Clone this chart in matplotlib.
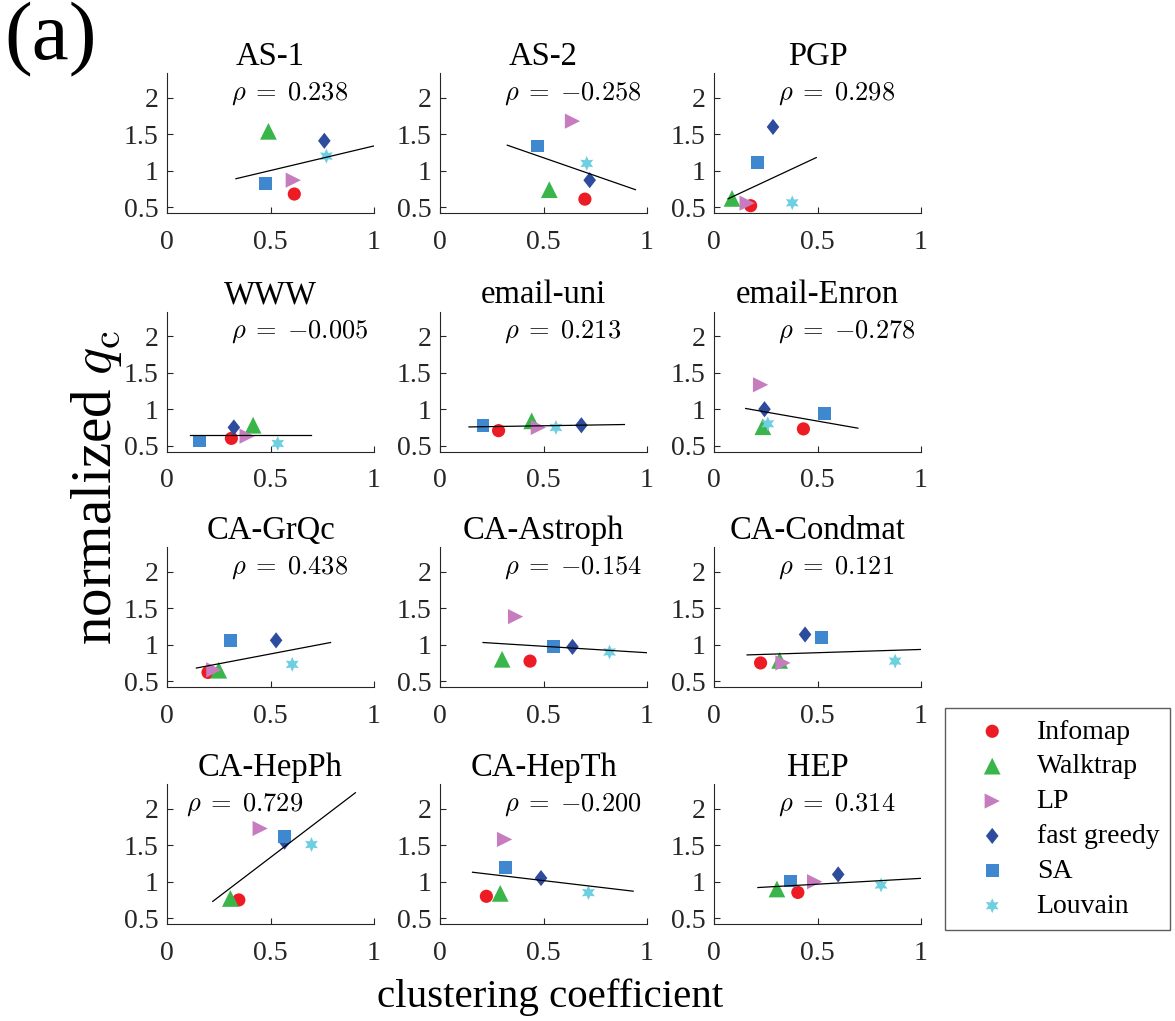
import numpy as np
import matplotlib
matplotlib.use("Agg")
import matplotlib.pyplot as plt
from matplotlib.path import Path

plt.rcParams['font.family'] = ['Liberation Serif', 'DejaVu Serif']
plt.rcParams['mathtext.fontset'] = 'cm'

# ---------------------------------------------------------
# DATA
# ---------------------------------------------------------
titles = ['AS-1', 'AS-2', 'PGP', 'WWW', 'email-uni', 'email-Enron',
          'CA-GrQc', 'CA-Astroph', 'CA-Condmat', 'CA-HepPh', 'CA-HepTh', 'HEP']
rho = ['0.238', '-0.258', '0.298', '-0.005', '0.213', '-0.278',
       '0.438', '-0.154', '0.121', '0.729', '-0.200', '0.314']
rho_xpos = [0.31, 0.31, 0.31, 0.31, 0.31, 0.31, 0.31, 0.31, 0.31, 0.09, 0.31, 0.31]

methods = ['Infomap', 'Walktrap', 'LP', 'fast greedy', 'SA', 'Louvain']

infomap_x = [0.615, 0.70, 0.177, 0.311, 0.283, 0.432, 0.198, 0.435, 0.225, 0.347, 0.224, 0.405]
infomap_y = [0.68, 0.61, 0.52, 0.60, 0.706, 0.73, 0.62, 0.775, 0.75, 0.75, 0.80, 0.853]
walktrap_x = [0.49, 0.528, 0.087, 0.416, 0.443, 0.236, 0.25, 0.30, 0.317, 0.306, 0.291, 0.304]
walktrap_y = [1.54, 0.74, 0.62, 0.78, 0.84, 0.76, 0.65, 0.80, 0.785, 0.77, 0.84, 0.90]
lp_x = [0.61, 0.64, 0.16, 0.387, 0.475, 0.225, 0.226, 0.365, 0.333, 0.45, 0.312, 0.486]
lp_y = [0.87, 1.68, 0.555, 0.63, 0.75, 1.335, 0.655, 1.385, 0.75, 1.73, 1.58, 1.0]
fastgreedy_x = [0.76, 0.723, 0.285, 0.323, 0.683, 0.244, 0.527, 0.64, 0.44, 0.568, 0.488, 0.60]
fastgreedy_y = [1.41, 0.87, 1.60, 0.75, 0.78, 1.0, 1.06, 0.97, 1.14, 1.55, 1.05, 1.10]
sa_x = [0.475, 0.472, 0.212, 0.158, 0.208, 0.534, 0.306, 0.547, 0.518, 0.568, 0.317, 0.368]
sa_y = [0.82, 1.34, 1.11, 0.565, 0.78, 0.94, 1.06, 0.97, 1.10, 1.62, 1.20, 1.01]
louvain_x = [0.77, 0.709, 0.378, 0.535, 0.56, 0.26, 0.605, 0.819, 0.875, 0.698, 0.717, 0.807]
louvain_y = [1.2, 1.10, 0.56, 0.53, 0.75, 0.80, 0.73, 0.90, 0.775, 1.51, 0.85, 0.955]

# linear fit end points
fit_x0 = [0.333, 0.325, 0.068, 0.113, 0.14, 0.153, 0.142, 0.208, 0.16, 0.221, 0.157, 0.212]
fit_y0 = [0.89, 1.35, 0.615, 0.64, 0.757, 1.01, 0.68, 1.03, 0.86, 0.73, 1.13, 0.92]
fit_x1 = [1.0, 0.944, 0.494, 0.694, 0.891, 0.695, 0.79, 1.0, 1.0, 0.91, 0.933, 1.0]
fit_y1 = [1.34, 0.74, 1.18, 0.64, 0.79, 0.74, 1.03, 0.89, 0.935, 2.22, 0.87, 1.046]

# ---------------------------------------------------------
# STYLE
# ---------------------------------------------------------
diamond = Path([(0, 1), (0.78, 0), (0, -1), (-0.78, 0), (0, 1)],
               [Path.MOVETO, Path.LINETO, Path.LINETO, Path.LINETO, Path.CLOSEPOLY])
series = [
    (infomap_x, infomap_y, 'o', '#ED1C24', 90),
    (walktrap_x, walktrap_y, '^', '#39B54A', 145),
    (lp_x, lp_y, '>', '#C77CBF', 120),
    (fastgreedy_x, fastgreedy_y, diamond, '#2E4C9E', 135),
    (sa_x, sa_y, 's', '#3F87CF', 85),
    (louvain_x, louvain_y, (6, 1, 0), '#6DCFE0', 115),
]
axcol = '#262626'

W, H = 1175, 1021
fig = plt.figure(figsize=(W / 100, H / 100), dpi=100)

col_left = [167, 440, 714]
row_bottom = [213, 451.5, 687, 924]
aw, ah = 207, 140

handles = []
for i, name in enumerate(titles):
    r, c = divmod(i, 3)
    ax = fig.add_axes([col_left[c] / W, 1 - row_bottom[r] / H, aw / W, ah / H])
    for j, (xs, ys, mk, col, s) in enumerate(series):
        h = ax.scatter(xs[i], ys[i], marker=mk, s=s, color=col, edgecolors='none',
                       zorder=2 + j, clip_on=False)
        if i == 0:
            handles.append(h)
    ax.plot([fit_x0[i], fit_x1[i]], [fit_y0[i], fit_y1[i]], color='black', lw=0.9, zorder=10)
    val = rho[i].replace('-', '{-}')
    ax.text(rho_xpos[i], 2.06, r'$\rho\;=\;' + val + '$', fontsize=19, va='center', ha='left')
    ax.set_title(name, fontsize=23.5, pad=6)
    ax.set_xlim(0, 1)
    ax.set_ylim(0.42, 2.34)
    ax.set_xticks([0, 0.5, 1])
    ax.set_xticklabels(['0', '0.5', '1'])
    ax.set_yticks([0.5, 1, 1.5, 2])
    ax.set_yticklabels(['0.5', '1', '1.5', '2'])
    ax.spines['top'].set_visible(False)
    ax.spines['right'].set_visible(False)
    for sp in ['left', 'bottom']:
        ax.spines[sp].set_color(axcol)
        ax.spines[sp].set_linewidth(0.8)
    ax.tick_params(direction='in', length=4.5, width=0.8, colors=axcol, labelsize=20)
    ax.tick_params(axis='x', pad=12)
    ax.tick_params(axis='y', pad=6)

fig.legend(handles, methods, loc='upper left', bbox_to_anchor=(945 / W, 1 - 708 / H),
           fontsize=20, frameon=True, fancybox=False, edgecolor='#333333',
           labelspacing=0.34, handletextpad=0.3, borderpad=0.4, handlelength=2.6,
           borderaxespad=0, scatterpoints=1)

fig.text(550 / W, 1 - 997 / H, 'clustering coefficient', fontsize=29.5, ha='center', va='center')
fig.text(97 / W, 1 - 488 / H, r'normalized $q_\mathrm{c}$', fontsize=41, ha='center',
         va='center', rotation=90)
fig.text(0.004, 0.998, '(a)', fontsize=60, ha='left', va='top')

fig.savefig('out.png', dpi=100)
